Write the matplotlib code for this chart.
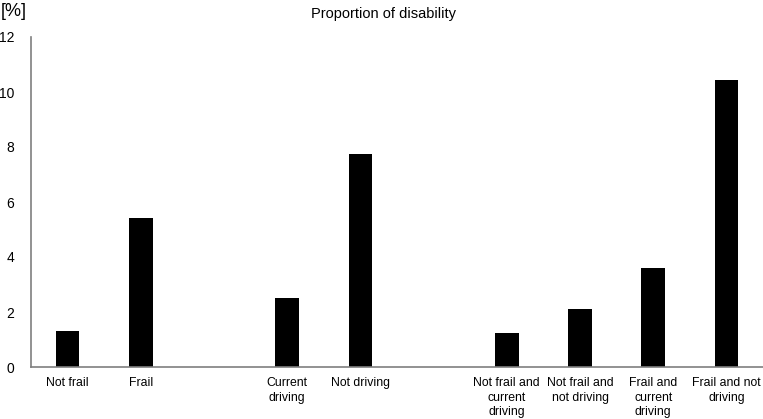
import matplotlib
matplotlib.use("Agg")
import matplotlib.pyplot as plt

plt.rcParams['font.family'] = ['Liberation Sans', 'DejaVu Sans']

categories = ["Not frail", "Frail", "Current\ndriving", "Not driving",
              "Not frail and\ncurrent\ndriving", "Not frail and\nnot driving",
              "Frail and\ncurrent\ndriving", "Frail and not\ndriving"]
slots = [0, 1, 3, 4, 6, 7, 8, 9]
values = [1.31, 5.41, 2.52, 7.75, 1.22, 2.12, 3.61, 10.44]
yticks = [0, 2, 4, 6, 8, 10, 12]

fig = plt.figure(figsize=(7.63, 4.19), dpi=100)
ax = fig.add_axes([31/763, 1-367/419, 1-31/763, (367-37)/419])
ax.bar(slots, values, width=0.32, color='black')
ax.set_xlim(-0.5, 9.5)
ax.set_ylim(0, 12)
ax.set_yticks(yticks)
ax.set_yticklabels([str(t) for t in yticks], fontsize=10)
ax.set_xticks(slots)
ax.set_xticklabels(categories, fontsize=8.8, linespacing=1.28)
ax.tick_params(axis='both', length=0)
ax.tick_params(axis='y', pad=12)
ax.tick_params(axis='x', pad=7.5)
for s in ['top', 'right']:
    ax.spines[s].set_visible(False)
for s in ['left', 'bottom']:
    ax.spines[s].set_color('#7f7f7f')
    ax.spines[s].set_linewidth(1.2)
fig.text(384/763, 1-14/419, "Proportion of disability", ha='center', va='center', fontsize=10.5)
fig.text(1/763, 1-12/419, "[%]", ha='left', va='center', fontsize=13)
fig.savefig("out.png", dpi=100)
